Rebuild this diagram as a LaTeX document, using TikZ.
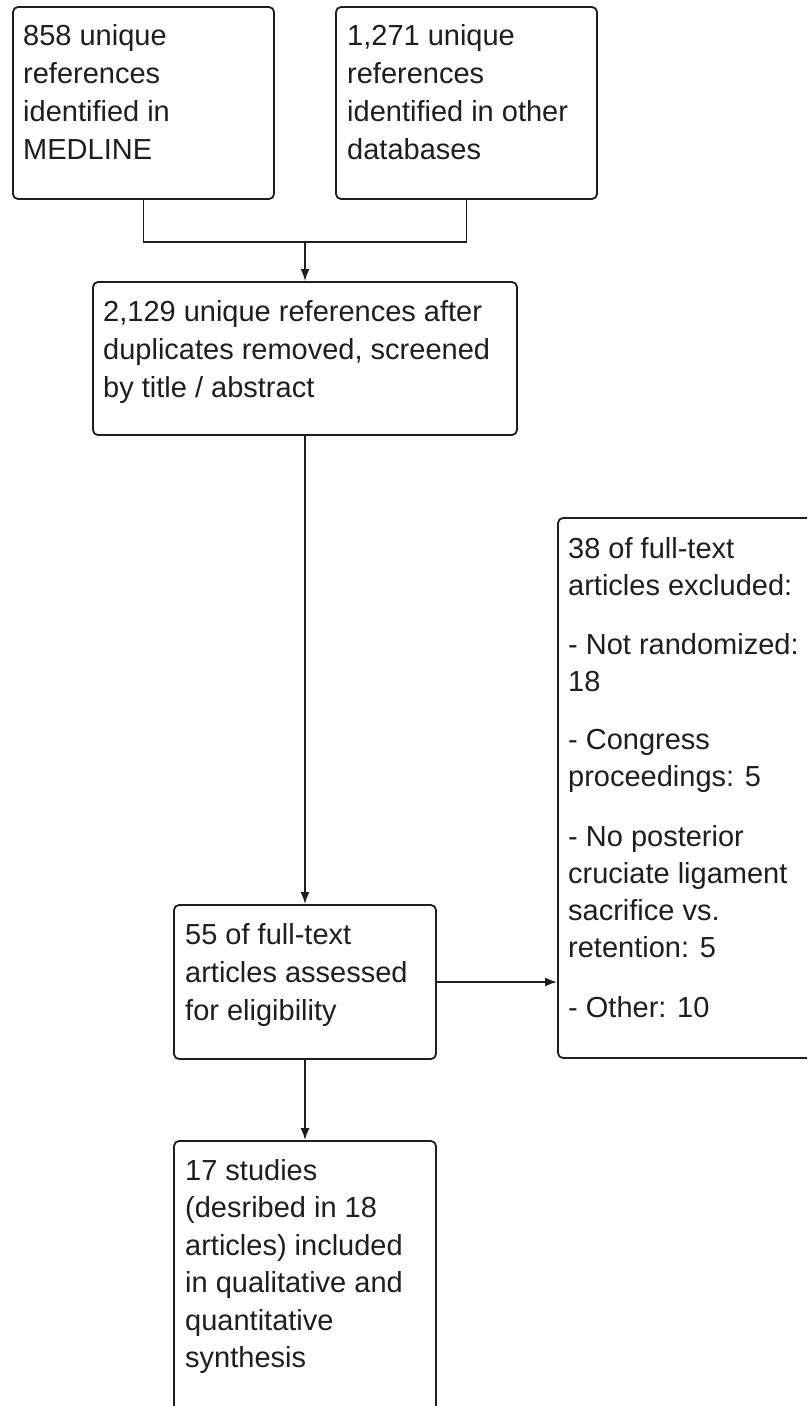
\documentclass[tikz,border=0pt]{standalone}
\usepackage{fontspec}
\setmainfont{Liberation Sans}
\usetikzlibrary{arrows.meta}
\definecolor{ink}{HTML}{1E1E1E}
\tikzset{
  box/.style={rectangle, rounded corners=5pt,
    draw=ink, line width=1.8pt, inner sep=0pt, fill=white},
  txt/.style={anchor=north west, inner sep=0pt, align=left, text=ink,
    font=\fontsize{29}{38}\selectfont},
  conn/.style={draw=ink, line width=1.8pt},
  arr/.style={conn, -{Latex[length=12pt,width=9pt]}}
}
\newcommand{\fs}{\rule{0pt}{25pt}}
\begin{document}
\begin{tikzpicture}[x=1pt,y=-1pt]
\path[use as bounding box, fill=white] (0,0) rectangle (807,1406);
\clip (0,0) rectangle (807,1406);
% boxes
\node[box, minimum width=261, minimum height=192] (b1) at (143.5,103) {};
\node[box, minimum width=261, minimum height=192] (b2) at (466.5,103) {};
\node[box, minimum width=424, minimum height=153] (b3) at (305,358.5) {};
\node[box, minimum width=262, minimum height=154] (b4) at (305,982) {};
\node[box, minimum width=272, minimum height=540] (b6) at (694,788) {};
\node[box, minimum width=262, minimum height=319] (b5) at (305,1300.5) {};
% texts
\node[txt] (t1) at (23,20) {\fs 858 unique\\references\\identified in\\MEDLINE};
\node[txt] (t2) at (347,20) {\fs 1,271 unique\\references\\identified in other\\databases};
\node[txt] (t3) at (103,296) {\fs 2,129 unique references after\\duplicates removed, screened\\by title / abstract};
\node[txt] (t4) at (185,919) {\fs 55 of full-text\\articles assessed\\for eligibility};
\node[txt, font=\fontsize{29}{37.5}\selectfont] (t5) at (185,1155) {\fs 17 studies\\(desribed in 18\\articles) included\\in qualitative and\\quantitative\\synthesis};
\node[txt, font=\fontsize{29}{37}\selectfont] (t6) at (568,533) {\fs 38 of full-text\\articles excluded:\\[22pt]- Not randomized:\\18\\[21pt]- Congress\\proceedings: 5\\[23pt]- No posterior\\cruciate ligament\\sacrifice vs.\\retention: 5\\[23pt]- Other: 10};
% connectors
\coordinate (j) at (305,242);
\draw[conn] (b1.south) |- (j);
\draw[conn] (b2.south) |- (j);
\draw[arr] (j) -- (b3.north);
\draw[arr] (b3.south) -- (b4.north);
\draw[arr] (b4.east) -- (b4.east -| b6.west);
\draw[arr] (b4.south) -- (b5.north);
\end{tikzpicture}
\end{document}
